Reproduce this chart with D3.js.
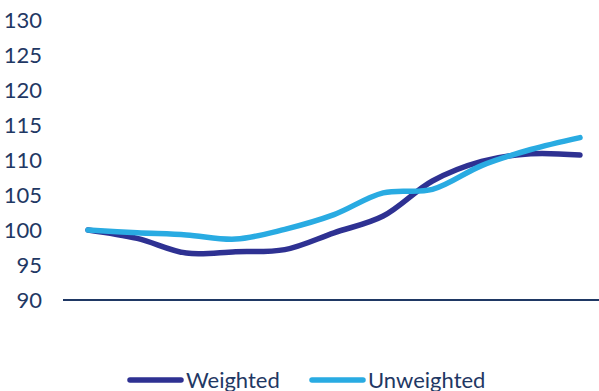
<!DOCTYPE html>
<html><head><meta charset="utf-8">
<script src="https://cdn.jsdelivr.net/npm/d3@7"></script>
<style>body{margin:0;background:#fff}svg{display:block}text{font-family:Lato,"Open Sans",sans-serif}</style>
</head><body><svg id="c" width="599" height="391"></svg>
<script>
const periods = [0,1,2,3,4,5,6,7,8,9,10];
const weighted = [100, 98.8, 96.7, 96.9, 97.2, 99.6, 102.0, 107.0, 109.8, 110.9, 110.7];
const unweighted = [100, 99.6, 99.3, 98.7, 100.1, 102.2, 105.3, 105.8, 109.2, 111.5, 113.2];
const yTicks = [90,95,100,105,110,115,120,125,130];
const seriesNames = ["Weighted","Unweighted"];
const colors = ["#2E3192","#29ABE2"];

const svg = d3.select("#c");
const x = d3.scalePoint().domain(periods).range([88,580]);
const y = d3.scaleLinear().domain([90,130]).range([300,20]);
const textColor = "#1F3864";

const yAxis = d3.axisLeft(y).tickValues(yTicks).tickSize(0).tickPadding(0);
const gy = svg.append("g").attr("transform","translate(42,0)").call(yAxis);
gy.select(".domain").remove();
gy.selectAll("text").attr("fill",textColor).style("font-size","22px").attr("dy","0.35em");

const xAxis = d3.axisBottom(x).tickSize(0).tickFormat("");
const gx = svg.append("g").attr("transform","translate(0,300)").call(xAxis);
gx.select(".domain").attr("d","M63,0H605").attr("stroke",textColor).attr("stroke-width",2);

const line = d3.line().x((d,i)=>x(periods[i])).y(d=>y(d)).curve(d3.curveCatmullRom.alpha(0.5));
[weighted,unweighted].forEach((s,k)=>{
  svg.append("path").datum(s).attr("d",line).attr("fill","none")
    .attr("stroke",colors[k]).attr("stroke-width",5.5).attr("stroke-linecap","round").attr("stroke-linejoin","round");
});

const legX = [128,310];
seriesNames.forEach((n,k)=>{
  const g = svg.append("g").attr("transform",`translate(${legX[k]},380)`);
  g.append("line").attr("x1",2).attr("x2",53).attr("y1",0).attr("y2",0)
    .attr("stroke",colors[k]).attr("stroke-width",5.5).attr("stroke-linecap","round");
  g.append("text").attr("x",58).attr("y",0).attr("dy","0.35em").attr("fill",textColor)
    .style("font-size","22px").text(n);
});
</script></body></html>
